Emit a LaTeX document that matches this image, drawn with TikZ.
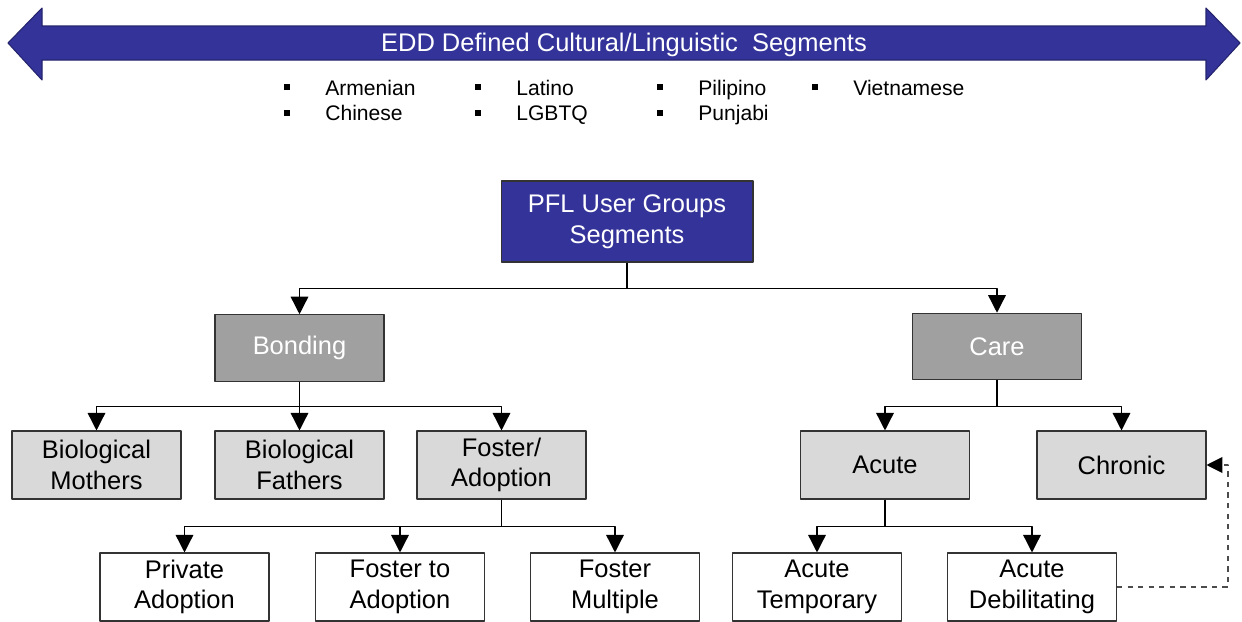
\documentclass[tikz,border=0pt]{standalone}
\usepackage{fontspec}
\setmainfont{Liberation Sans}
\usetikzlibrary{arrows.meta}
\definecolor{pflblue}{HTML}{333399}
\definecolor{banddark}{HTML}{24246E}
\definecolor{midgray}{HTML}{A0A0A0}
\definecolor{lightgray}{HTML}{D9D9D9}
\begin{document}
\begin{tikzpicture}[x=0.02cm, y=-0.02cm, font=\fontsize{14.5}{17.5}\selectfont, line join=round, >={Triangle[width=10pt,length=10pt]},
		box/.style={draw=black!80, line width=0.6pt, minimum width=3.38cm, minimum height=1.36cm, align=center, inner sep=1pt},
		topbox/.style={box, fill=pflblue, text=white, minimum width=5.04cm, minimum height=1.62cm},
		midbox/.style={box, fill=midgray, text=white, minimum height=1.33cm},
		subbox/.style={box, fill=lightgray},
		leafbox/.style={box, fill=white},
		link/.style={->, draw=black, line width=0.8pt},
		dashlink/.style={-{Triangle[width=9pt,length=9pt,color=black]}, dashed, draw=black!70, line width=0.6pt},
		bul/.style={fill=black, inner sep=0pt, minimum size=3.5pt},
		item/.style={anchor=base west, inner sep=0pt, font=\fontsize{12}{14}\selectfont}]
			\useasboundingbox (0,0) rectangle (1242,622);
			% banner arrow
			\fill[pflblue, draw=banddark, line width=0.6pt] (8,43) -- (42,8) -- (42,26) -- (1206,26) -- (1206,8) -- (1240,43)
				-- (1206,80) -- (1206,60) -- (42,60) -- (42,80) -- cycle;
			\node[text=white] (band) at (624,45) {EDD Defined Cultural/Linguistic~ Segments};
			\foreach \x/\name/\txt in {287/arm/Armenian, 478/lat/Latino, 660/pil/Pilipino, 815/vie/Vietnamese}
				\node[bul] (b\name) at (\x,87) {} node[item] (\name) at (\x+38,95) {\txt};
			\foreach \x/\name/\txt in {287/chi/Chinese, 478/lgb/LGBTQ, 660/pun/Punjabi}
				\node[bul] (b\name) at (\x,113) {} node[item] (\name) at (\x+38,120) {\txt};
			% boxes
			\node[topbox] (pfl) at (627,221.5) {PFL User Groups\\Segments};
			\node[midbox] (bond) at (299.5,348) {Bonding};
			\node[midbox] (care) at (997,346.5) {Care};
			\node[subbox] (moth) at (96.5,465) {Biological\\Mothers};
			\node[subbox] (fath) at (299.5,465) {Biological\\Fathers};
			\node[subbox] (fost) at (501.5,465) {Foster/\\Adoption};
			\node[subbox] (acut) at (885,465) {Acute};
			\node[subbox] (chro) at (1121.5,465) {Chronic};
			\node[leafbox] (priv) at (184.5,587) {Private\\Adoption};
			\node[leafbox] (ftoa) at (400,587) {Foster to\\Adoption};
			\node[leafbox] (fmul) at (615,587) {Foster\\Multiple};
			\node[leafbox] (temp) at (817,587) {Acute\\Temporary};
			\node[leafbox] (debi) at (1032,587) {Acute\\Debilitating};
			% connectors
			\draw[link] (pfl.south) -- ++(0,26) -| (bond.north);
			\draw[link] (pfl.south) -- ++(0,26) -| (care.north);
			\foreach \t in {moth, fath, fost}
				\draw[link] (bond.south) -- ++(0,25) -| (\t.north);
			\foreach \t in {priv, ftoa, fmul}
				\draw[link] (fost.south) -- ++(0,27) -| (\t.north);
			\foreach \t in {acut, chro}
				\draw[link] (care.south) -- ++(0,26) -| (\t.north);
			\foreach \t in {temp, debi}
				\draw[link] (acut.south) -- ++(0,27) -| (\t.north);
			\draw[dashlink] (debi.east) -- ++(111,0) |- (chro.east);
		\end{tikzpicture}
\end{document}
